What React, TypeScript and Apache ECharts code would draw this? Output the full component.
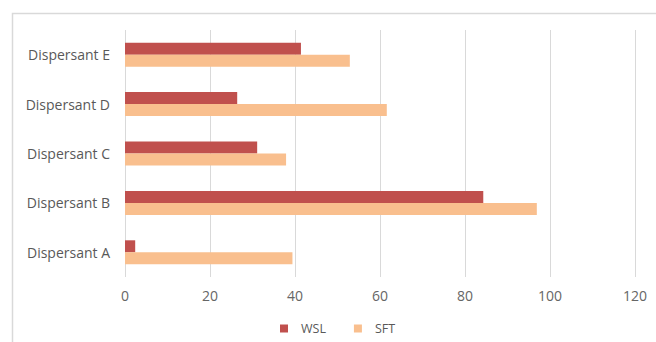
import React, { useEffect, useRef } from "react";
import * as echarts from "echarts";

const categories = ["Dispersant A", "Dispersant B", "Dispersant C", "Dispersant D", "Dispersant E"];
const wslValues = [2.4, 84.3, 31.1, 26.4, 41.4];
const sftValues = [39.4, 96.9, 37.9, 61.6, 52.9];
const seriesNames = ["WSL", "SFT"];
const xTicks = { min: 0, max: 120, interval: 20 };

const FONT = "'Open Sans', 'Noto Sans', sans-serif";

export default function App() {
  const ref = useRef<HTMLDivElement>(null);
  useEffect(() => {
    if (!ref.current) return;
    const chart = echarts.init(ref.current, null, { renderer: "svg" });
    chart.setOption({
      animation: false,
      backgroundColor: "#ffffff",
      textStyle: { fontFamily: FONT },
      graphic: [
        {
          type: "rect",
          shape: { x: 12.5, y: 13.5, width: 700, height: 400 },
          style: { fill: "none", stroke: "#d9d9d9", lineWidth: 1.5 },
          silent: true,
        },
      ],
      grid: { left: 125, right: 21, top: 30, bottom: 65 },
      legend: {
        data: seriesNames,
        left: 275,
        top: 317,
        itemWidth: 8,
        itemHeight: 8,
        itemGap: 28,
        icon: "rect",
        textStyle: { color: "#595959", fontSize: 12.5, fontFamily: FONT, padding: [0, 0, 0, 8] },
      },
      xAxis: {
        type: "value",
        min: xTicks.min,
        max: xTicks.max,
        interval: xTicks.interval,
        axisLine: { show: false },
        axisTick: { show: false },
        axisLabel: { color: "#666666", fontSize: 14, margin: 11, fontFamily: FONT },
        splitLine: { show: true, lineStyle: { color: "#d9d9d9", width: 1 } },
      },
      yAxis: {
        type: "category",
        data: categories,
        axisLine: { show: false },
        axisTick: { show: false },
        axisLabel: { color: "#595959", fontSize: 14, margin: 15, fontFamily: FONT },
      },
      series: [
        {
          name: seriesNames[0],
          type: "bar",
          data: wslValues,
          barWidth: 12,
          barGap: "0%",
          itemStyle: { color: "#c0504d" },
        },
        {
          name: seriesNames[1],
          type: "bar",
          data: sftValues,
          barWidth: 12,
          barGap: "0%",
          itemStyle: { color: "#f9bf8e" },
        },
      ],
    });
    return () => chart.dispose();
  }, []);
  return (
    <div
      ref={ref}
      style={{ position: "fixed", left: 0, top: 0, width: 656, height: 342 }}
    />
  );
}
